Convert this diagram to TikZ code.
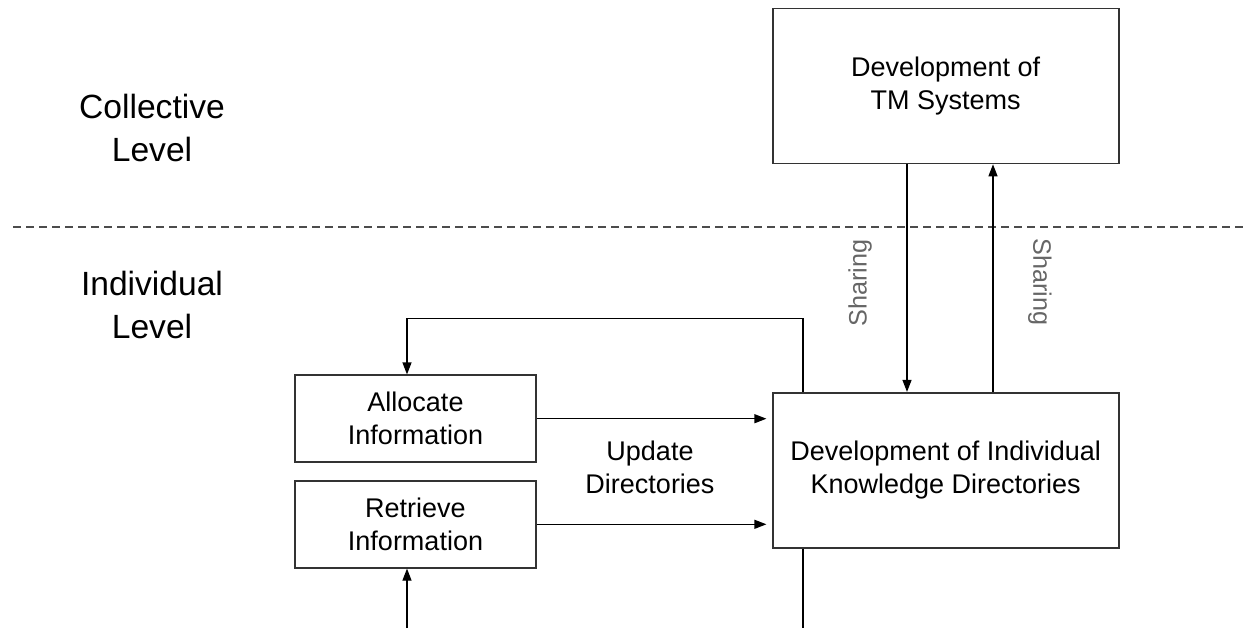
\documentclass[tikz,border=0pt]{standalone}
\usepackage{fontspec}
\setmainfont{Liberation Sans}
\usepackage{tikz}
\usetikzlibrary{positioning,arrows.meta,calc}

\begin{document}
\begin{tikzpicture}[x=0.5pt, y=-0.5pt, node distance=8.5pt,
    every node/.style={font=\fontsize{13.5}{16.5}\selectfont}]
  \tikzset{
    procbox/.style={rectangle, draw=black!80, line width=0.8pt, minimum width=120.5pt, minimum height=43.5pt, align=center, inner sep=2pt},
    bigbox/.style={rectangle, draw=black!80, line width=0.8pt, minimum width=173pt, minimum height=77.5pt, align=center, inner sep=2pt},
    level/.style={align=center, font=\fontsize{16.8}{21.5}\selectfont},
    share/.style={text=black!60, font=\fontsize{12.6}{15}\selectfont},
    flow/.style={-{Triangle[length=6pt,width=4.5pt]}, line width=0.6pt},
    link/.style={line width=0.6pt},
    divider/.style={dashed, dash pattern=on 4pt off 2.5pt, line width=0.6pt, black!70}
  }
  \useasboundingbox (0,0) rectangle (1248,628);

  % levels
  \node[level] (collective) at (152,128) {Collective\\Level};
  \node[level] (individual) at (152,305) {Individual\\Level};
  \coordinate (divL) at (13,227);
  \coordinate (divR) at (1248,227);
  \draw[divider] (divL) -- (divR);

  % nodes
  \node[bigbox] (tm) at (945.7,86) {Development of\\TM Systems};
  \node[bigbox] (indiv) at (945.7,470.2) {Development of Individual\\Knowledge Directories};
  \node[procbox] (alloc) at (415.5,418.7) {Allocate\\Information};
  \node[procbox, below=of alloc] (retr) {Retrieve\\Information};
  \node[align=center] (update) at (650,467) {Update\\Directories};
  \node[share, rotate=90] (shareDown) at (860,283) {Sharing};
  \node[share, rotate=-90] (shareUp) at (1040,282) {Sharing};

  % loose ends
  \coordinate (retrIn) at (407,628);
  \coordinate (indivOut) at (803,628);

  % arrows
  \draw[flow] (tm.south -| 907,0) -- (indiv.north -| 907,0);
  \draw[flow] (indiv.north -| 993,0) -- (tm.south -| 993,0);
  \draw[flow] (alloc.east) -- ([xshift=-2.75pt]alloc.east -| indiv.west);
  \draw[flow] (retr.east) -- ([xshift=-2.75pt]retr.east -| indiv.west);
  \draw[flow] (indiv.north -| indivOut) -- ++(0,-73.5) -| (alloc.north -| retrIn);
  \draw[flow] (retrIn) -- (retr.south -| retrIn);
  \draw[link] (indiv.south -| indivOut) -- (indivOut);
\end{tikzpicture}
\end{document}
